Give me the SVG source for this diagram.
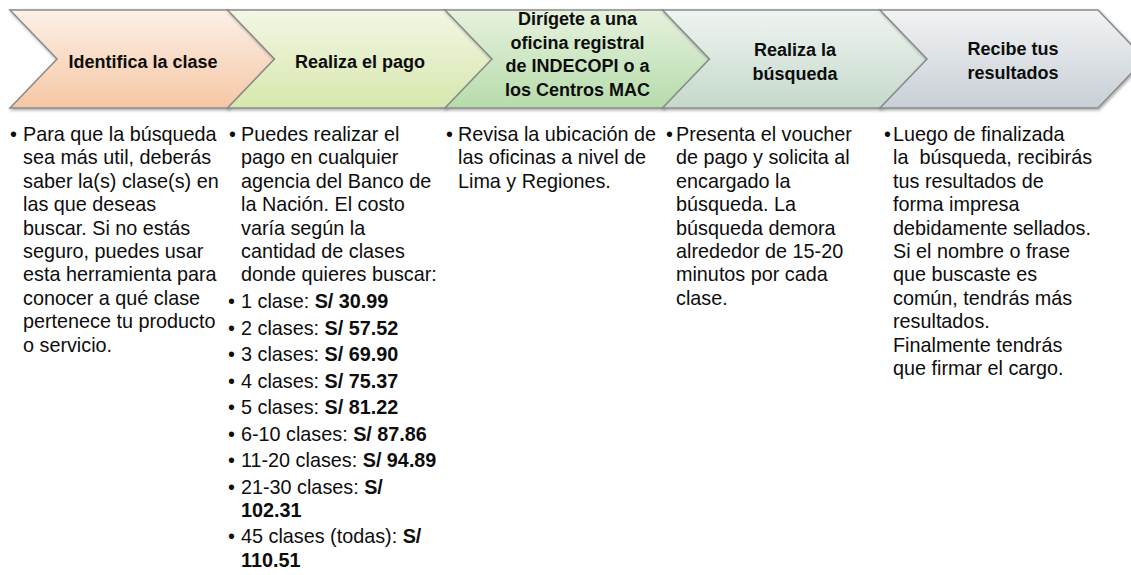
<svg xmlns="http://www.w3.org/2000/svg" width="1131" height="575" viewBox="0 0 1131 575">
<defs>
<linearGradient id="g1" x1="0" y1="0" x2="0" y2="1"><stop offset="0" stop-color="#fcf0e8"/><stop offset="1" stop-color="#f5c7a4"/></linearGradient>
<linearGradient id="g2" x1="0" y1="0" x2="0" y2="1"><stop offset="0" stop-color="#f3f7e4"/><stop offset="1" stop-color="#d7e7ad"/></linearGradient>
<linearGradient id="g3" x1="0" y1="0" x2="0" y2="1"><stop offset="0" stop-color="#e6f2de"/><stop offset="1" stop-color="#b6dcab"/></linearGradient>
<linearGradient id="g4" x1="0" y1="0" x2="0" y2="1"><stop offset="0" stop-color="#eff4f0"/><stop offset="1" stop-color="#c5d9cc"/></linearGradient>
<linearGradient id="g5" x1="0" y1="0" x2="0" y2="1"><stop offset="0" stop-color="#f1f3f4"/><stop offset="1" stop-color="#c8cfd6"/></linearGradient>
<filter id="sh" x="-5%" y="-10%" width="115%" height="130%"><feDropShadow dx="1" dy="1.5" stdDeviation="1.5" flood-color="#000" flood-opacity="0.35"/></filter>
</defs>
<style>
.chev{stroke:#8a8a8a;stroke-width:1.5;stroke-linejoin:miter;filter:url(#sh)}
.hd{font-family:"Liberation Sans",Arial,sans-serif;font-weight:bold;font-size:18px;fill:#0d0d0d;text-anchor:middle}
.bd{font-family:"Liberation Sans",Arial,sans-serif;font-size:19.8px;fill:#0d0d0d}
.b{font-weight:bold}
</style>
<g id="step1">
<polygon class="chev" fill="url(#g1)" points="10,10 228,10 275,59 228,108 10,108 57,59"/>
<text class="hd" x="143" y="68">Identifica la clase</text>
<g class="bd">
<text x="10" y="141">•</text>
<text x="23" y="141">Para que la búsqueda</text>
<text x="23" y="164.4">sea más util, deberás</text>
<text x="23" y="187.8">saber la(s) clase(s) en</text>
<text x="23" y="211.2">las que deseas</text>
<text x="23" y="234.6">buscar.  Si no estás</text>
<text x="23" y="258">seguro, puedes usar</text>
<text x="23" y="281.4">esta herramienta para</text>
<text x="23" y="304.8">conocer a qué clase</text>
<text x="23" y="328.2">pertenece tu producto</text>
<text x="23" y="351.6">o servicio.</text>
</g>
</g>
<g id="step2">
<polygon class="chev" fill="url(#g2)" points="227.5,10 445.5,10 492.5,59 445.5,108 227.5,108 274.5,59"/>
<text class="hd" x="360" y="68">Realiza el pago</text>
<g class="bd">
<text x="229" y="141">•</text>
<text x="241" y="141">Puedes realizar el</text>
<text x="241" y="164.4">pago en cualquier</text>
<text x="241" y="187.8">agencia del Banco de</text>
<text x="241" y="211.2">la Nación.  El costo</text>
<text x="241" y="234.6">varía según la</text>
<text x="241" y="258">cantidad de clases</text>
<text x="241" y="281.4">donde quieres buscar:</text>
<text x="228" y="308">•</text><text x="241" y="308">1 clase: <tspan class="b">S/ 30.99</tspan></text>
<text x="228" y="334.5">•</text><text x="241" y="334.5">2 clases: <tspan class="b">S/ 57.52</tspan></text>
<text x="228" y="361">•</text><text x="241" y="361">3 clases: <tspan class="b">S/ 69.90</tspan></text>
<text x="228" y="387.5">•</text><text x="241" y="387.5">4 clases: <tspan class="b">S/ 75.37</tspan></text>
<text x="228" y="414">•</text><text x="241" y="414">5 clases: <tspan class="b">S/ 81.22</tspan></text>
<text x="228" y="440.5">•</text><text x="241" y="440.5">6-10 clases: <tspan class="b">S/ 87.86</tspan></text>
<text x="228" y="467">•</text><text x="241" y="467">11-20 clases: <tspan class="b">S/ 94.89</tspan></text>
<text x="228" y="493.5">•</text><text x="241" y="493.5">21-30 clases: <tspan class="b">S/</tspan></text>
<text x="241" y="516.9" class="b">102.31</text>
<text x="228" y="543.4">•</text><text x="241" y="543.4">45 clases (todas): <tspan class="b">S/</tspan></text>
<text x="241" y="566.8" class="b">110.51</text>
</g>
</g>
<g id="step3">
<polygon class="chev" fill="url(#g3)" points="445,10 663,10 710,59 663,108 445,108 492,59"/>
<text class="hd" x="577.5" y="25">Dirígete a una</text>
<text class="hd" x="577.5" y="48.5">oficina registral</text>
<text class="hd" x="577.5" y="72">de INDECOPI o a</text>
<text class="hd" x="577.5" y="95.5">los Centros MAC</text>
<g class="bd">
<text x="446" y="141">•</text>
<text x="458" y="141">Revisa la ubicación de</text>
<text x="458" y="164.4">las oficinas a nivel de</text>
<text x="458" y="187.8">Lima y Regiones.</text>
</g>
</g>
<g id="step4">
<polygon class="chev" fill="url(#g4)" points="662.5,10 880.5,10 927.5,59 880.5,108 662.5,108 709.5,59"/>
<text class="hd" x="795" y="56">Realiza la</text>
<text class="hd" x="795" y="79.5">búsqueda</text>
<g class="bd">
<text x="666" y="141">•</text>
<text x="676" y="141">Presenta el voucher</text>
<text x="676" y="164.4">de pago y solicita al</text>
<text x="676" y="187.8">encargado la</text>
<text x="676" y="211.2">búsqueda. La</text>
<text x="676" y="234.6">búsqueda demora</text>
<text x="676" y="258">alrededor de 15-20</text>
<text x="676" y="281.4">minutos por cada</text>
<text x="676" y="304.8">clase.</text>
</g>
</g>
<g id="step5">
<polygon class="chev" fill="url(#g5)" points="880,10 1098,10 1145,59 1098,108 880,108 927,59"/>
<text class="hd" x="1013" y="55">Recibe tus</text>
<text class="hd" x="1013" y="78.5">resultados</text>
<g class="bd">
<text x="884" y="141">•</text>
<text x="893" y="141">Luego de finalizada</text>
<text x="893" y="164.4" xml:space="preserve">la  búsqueda, recibirás</text>
<text x="893" y="187.8">tus resultados de</text>
<text x="893" y="211.2">forma impresa</text>
<text x="893" y="234.6">debidamente sellados.</text>
<text x="893" y="258">Si el nombre o frase</text>
<text x="893" y="281.4">que buscaste es</text>
<text x="893" y="304.8">común, tendrás más</text>
<text x="893" y="328.2">resultados.</text>
<text x="893" y="351.6">Finalmente tendrás</text>
<text x="893" y="375">que firmar el cargo.</text>
</g>
</g>
</svg>
